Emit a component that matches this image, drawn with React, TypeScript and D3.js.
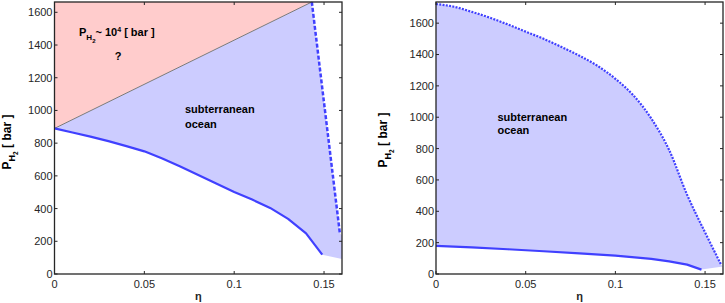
import React from "react";
import * as d3 from "d3";

// ---------- data ----------
const xTicks = [0, 0.05, 0.1, 0.15];
const xTickLabels = ["0", "0.05", "0.1", "0.15"];
const yTicks = [0, 200, 400, 600, 800, 1000, 1200, 1400, 1600];

// left panel
const leftLowerEta = [0, 0.01, 0.02, 0.03, 0.04, 0.05, 0.06, 0.07, 0.08, 0.09, 0.1, 0.11, 0.12, 0.13, 0.14, 0.149];
const leftLowerP = [890, 865, 840, 812, 782, 750, 706, 657, 605, 553, 502, 455, 404, 337, 248, 118];
const leftDiagEta = [0, 0.1432];
const leftDiagP = [890, 1663];
const leftDashEta = [0.1432, 0.1588];
const leftDashP = [1663, 250];
const leftCornerEta = [0.16, 0.16];
const leftCornerP = [235, 92];

// right panel
const rightUpperEta = [0, 0.01, 0.02, 0.03, 0.04, 0.05, 0.06, 0.07, 0.08, 0.09, 0.1, 0.11, 0.12, 0.13, 0.14, 0.15, 0.159];
const rightUpperP = [1722, 1705, 1672, 1635, 1592, 1546, 1500, 1448, 1392, 1328, 1245, 1140, 992, 790, 505, 265, 58];
const rightLowerEta = [0, 0.02, 0.04, 0.06, 0.08, 0.1, 0.12, 0.13, 0.14, 0.148];
const rightLowerP = [180, 170, 158, 145, 132, 117, 96, 81, 60, 28];
const rightCornerEta = [0.16];
const rightCornerP = [48];

const LINE = "#4040ff";
const AXIS = "#262626";
const FONT = "Liberation Sans, Arial, Helvetica, sans-serif";

type Pt = [number, number];
const zip = (a: number[], b: number[]): Pt[] => a.map((v, i) => [v, b[i]]);

function Axes({ x, y }: { x: d3.ScaleLinear<number, number>; y: d3.ScaleLinear<number, number> }) {
  const [x0, x1] = x.range();
  const [y0, y1] = y.range();
  const tl = 3;
  return (
    <g>
      <rect x={x0} y={y1} width={x1 - x0} height={y0 - y1} fill="none" stroke={AXIS} strokeWidth={1.3} />
      {yTicks.map((t) => (
        <g key={"y" + t}>
          <line x1={x0} x2={x0 + tl} y1={y(t)} y2={y(t)} stroke={AXIS} />
          <line x1={x1} x2={x1 - tl} y1={y(t)} y2={y(t)} stroke={AXIS} />
          <text x={x0 - 2} y={y(t)} dy="0.36em" textAnchor="end" fontSize={11} fill={AXIS} fontFamily={FONT}>
            {t}
          </text>
        </g>
      ))}
      {xTicks.map((t, i) => (
        <g key={"x" + t}>
          <line x1={x(t)} x2={x(t)} y1={y0} y2={y0 - tl} stroke={AXIS} />
          <line x1={x(t)} x2={x(t)} y1={y1} y2={y1 + tl} stroke={AXIS} />
          <text x={x(t)} y={y0 + 13.5} textAnchor="middle" fontSize={11} fill={AXIS} fontFamily={FONT}>
            {xTickLabels[i]}
          </text>
        </g>
      ))}
      <text x={(x0 + x1) / 2} y={300} textAnchor="middle" fontSize={11} fontWeight="bold" fill={AXIS} fontFamily={FONT}>
        η
      </text>
    </g>
  );
}

function YLabel({ cx, cy }: { cx: number; cy: number }) {
  return (
    <text
      transform={`translate(${cx},${cy}) rotate(-90)`}
      textAnchor="middle"
      fontSize={12}
      fontWeight="bold"
      fill="#000"
      fontFamily={FONT}
    >
      P
      <tspan fontSize={9} dy={4}>H</tspan>
      <tspan fontSize={6.5} dy={3}>2</tspan>
      <tspan dy={-7}>{"  [ bar ]"}</tspan>
    </text>
  );
}

export default function App() {
  // left panel scales
  const xL = d3.scaleLinear().domain([0, 0.16]).range([54.5, 342]);
  const yL = d3.scaleLinear().domain([0, 1663]).range([274, 2]);
  // right panel scales
  const xR = d3.scaleLinear().domain([0, 0.16]).range([436, 723]);
  const yR = d3.scaleLinear().domain([0, 1735]).range([274, 2]);

  const lineL = d3.line<Pt>().x((d) => xL(d[0])).y((d) => yL(d[1]));
  const lineR = d3.line<Pt>().x((d) => xR(d[0])).y((d) => yR(d[1]));
  const curveR = d3.line<Pt>().x((d) => xR(d[0])).y((d) => yR(d[1])).curve(d3.curveMonotoneX);

  const lower = zip(leftLowerEta, leftLowerP);
  const diag = zip(leftDiagEta, leftDiagP);
  const dash = zip(leftDashEta, leftDashP);
  const corner = zip(leftCornerEta, leftCornerP);

  const redPoly: Pt[] = [[0, leftDiagP[0]], [0, 1663], [leftDiagEta[1], leftDiagP[1]]];
  const bluePolyL: Pt[] = [...diag, ...dash.slice(1), ...corner, ...lower.slice().reverse()];

  const upperR = zip(rightUpperEta, rightUpperP);
  const lowerR = zip(rightLowerEta, rightLowerP);
  const bluePolyR: Pt[] = [...upperR, ...zip(rightCornerEta, rightCornerP), ...lowerR.slice().reverse()];

  return (
    <svg width={725} height={303} style={{ position: "absolute", left: 0, top: 0, background: "#fff" }}>
      {/* left panel */}
      <path d={lineL(redPoly)! + "Z"} fill="#ffcccc" stroke="none" />
      <path d={lineL(bluePolyL)! + "Z"} fill="#ccccff" stroke="none" />
      <path d={lineL(diag)!} fill="none" stroke="#7a7a7a" strokeWidth={1} />
      <path d={lineL(lower)!} fill="none" stroke={LINE} strokeWidth={2.2} strokeLinejoin="round" />
      <path d={lineL(dash)!} fill="none" stroke={LINE} strokeWidth={2.5} strokeDasharray="4,2" />
      <Axes x={xL} y={yL} />
      <YLabel cx={10.5} cy={142} />
      <text x={79} y={36} fontSize={11} fontWeight="bold" fill="#000" fontFamily={FONT}>
        P
        <tspan fontSize={8} dy={4}>H</tspan>
        <tspan fontSize={6} dy={3}>2</tspan>
        <tspan dy={-7}>~ 10</tspan>
        <tspan fontSize={7} dy={-4}>4</tspan>
        <tspan dy={4}> [ bar ]</tspan>
      </text>
      <text x={118} y={60} textAnchor="middle" fontSize={11} fontWeight="bold" fill="#000" fontFamily={FONT}>
        ?
      </text>
      <text x={185} y={113} fontSize={11} fontWeight="bold" fill="#000" fontFamily={FONT}>
        subterranean
      </text>
      <text x={185} y={127.5} fontSize={11} fontWeight="bold" fill="#000" fontFamily={FONT}>
        ocean
      </text>

      {/* right panel */}
      <path d={lineR(bluePolyR)! + "Z"} fill="#ccccff" stroke="none" />
      <path d={lineR(lowerR)!} fill="none" stroke={LINE} strokeWidth={2.2} strokeLinejoin="round" />
      <path d={curveR(upperR)!} fill="none" stroke={LINE} strokeWidth={2.2} strokeDasharray="2,1.3" />
      <Axes x={xR} y={yR} />
      <YLabel cx={387} cy={140} />
      <text x={497.5} y={120.5} fontSize={11} fontWeight="bold" fill="#000" fontFamily={FONT}>
        subterranean
      </text>
      <text x={497.5} y={134} fontSize={11} fontWeight="bold" fill="#000" fontFamily={FONT}>
        ocean
      </text>
    </svg>
  );
}
